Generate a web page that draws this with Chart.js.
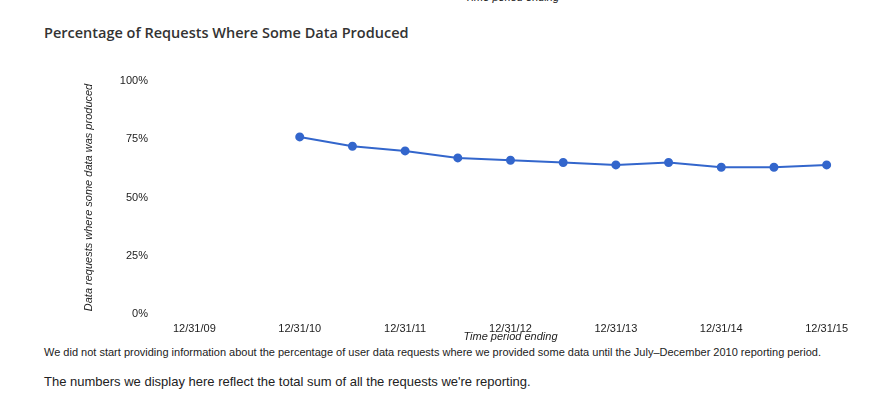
<!DOCTYPE html>
<html><head><meta charset="utf-8">
<script src="https://cdn.jsdelivr.net/npm/chart.js@4/dist/chart.umd.min.js"></script>
<style>
body{margin:0;background:#fff;font-family:"Liberation Sans",Arial,sans-serif;color:#222;}
#top{position:absolute;left:465px;top:-9px;font-size:11px;font-style:italic;}
h2{position:absolute;left:44px;top:23px;margin:0;font-family:"Open Sans",sans-serif;font-size:14.5px;font-weight:600;color:#333;}
#wrap{position:absolute;left:40px;top:60px;width:820px;height:285px;}
#n1{position:absolute;left:44px;top:346px;font-size:11px;}
#n2{position:absolute;left:44px;top:374px;font-size:13px;}
</style></head><body>
<div id="top">Time period ending</div>
<h2>Percentage of Requests Where Some Data Produced</h2>
<div id="wrap"><canvas id="c"></canvas></div>
<div id="n1">We did not start providing information about the percentage of user data requests where we provided some data until the July–December 2010 reporting period.</div>
<div id="n2">The numbers we display here reflect the total sum of all the requests we're reporting.</div>
<script>
const periods = ['12/31/09','6/30/10','12/31/10','6/30/11','12/31/11','6/30/12','12/31/12','6/30/13','12/31/13','6/30/14','12/31/14','6/30/15','12/31/15'];
const pctProduced = [null,null,76,72,70,67,66,65,64,65,63,63,64];
const yTicks = [0,25,50,75,100];

new Chart(document.getElementById('c'),{
  type:'line',
  data:{labels:periods,datasets:[{data:pctProduced,borderColor:'#3366cc',backgroundColor:'#3366cc',borderWidth:2,pointRadius:3.5,pointHoverRadius:4,tension:0}]},
  options:{
    responsive:true,maintainAspectRatio:false,animation:false,
    layout:{padding:{top:21,right:7,left:38}},
    plugins:{legend:{display:false},tooltip:{enabled:false}},
    scales:{
      x:{offset:true,grid:{display:false},border:{display:false},
        afterFit:s=>{s.height=31;},
        ticks:{autoSkip:false,maxRotation:0,color:'#222',font:{size:11,family:'Liberation Sans'},padding:0,
          callback:(v,i)=>periods[i].startsWith('12/')?periods[i]:''},
        title:{display:true,text:'Time period ending',color:'#222',font:{size:11,style:'italic',family:'Liberation Sans'},padding:{top:0,bottom:1}}},
      y:{min:0,max:100,afterBuildTicks:s=>{s.ticks=yTicks.map(v=>({value:v}));},
        afterFit:s=>{s.width=90;},
        grid:{display:false},border:{display:false},
        ticks:{color:'#222',font:{size:11,family:'Liberation Sans'},padding:12,callback:v=>v+'%'},
        title:{display:true,text:'Data requests where some data was produced',color:'#222',font:{size:11,style:'italic',family:'Liberation Sans'}}}
    }
  }
});
</script>
</body></html>
